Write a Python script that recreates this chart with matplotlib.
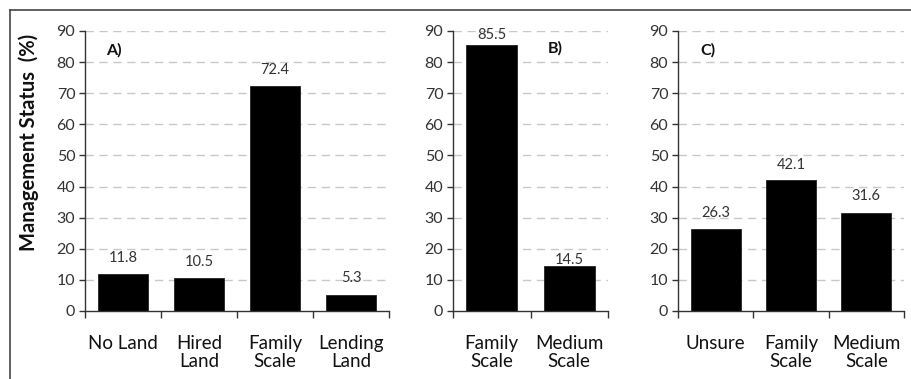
import matplotlib
matplotlib.use("Agg")
import matplotlib.pyplot as plt
from matplotlib.lines import Line2D

plt.rcParams['font.family'] = ['Lato', 'DejaVu Sans']

# panel A: land ownership
land_cats = ['No Land', 'Hired\nLand', 'Family\nScale', 'Lending\nLand']
land_vals = [11.8, 10.5, 72.4, 5.3]

# panel B: farm scale
scale_cats = ['Family\nScale', 'Medium\nScale']
scale_vals = [85.5, 14.5]

# panel C: future plans
plan_cats = ['Unsure', 'Family\nScale', 'Medium\nScale']
plan_vals = [26.3, 42.1, 31.6]

yticks = list(range(0, 100, 10))

fig = plt.figure(figsize=(9.12, 3.79), dpi=100)
W, H = 912, 379

def px_axes(left, right, bottom, top):
    return fig.add_axes([left / W, (H - bottom) / H, (right - left) / W, (bottom - top) / H])

def draw_panel(ax, cats, vals, tag, tag_xy, offsets):
    n = len(cats)
    x = list(range(n))
    ax.set_axisbelow(True)
    for y in yticks[1:]:
        ax.axhline(y, color='#c8c8c8', lw=1.0, ls=(0, (6, 4)), zorder=0)
    bars = ax.bar(x, vals, width=0.66, color='black', edgecolor='#222222', lw=0.6, zorder=2)
    for b, v, off in zip(bars, vals, offsets):
        ax.annotate(f'{v:.1f}', (b.get_x() + b.get_width() / 2, v),
                    xytext=(0, off), textcoords='offset pixels',
                    ha='center', va='center', fontsize=10.5, color='#333333')
    ax.set_xlim(-0.5, n - 0.5)
    ax.set_ylim(0, 90)
    ax.set_yticks(yticks)
    ax.tick_params(axis='y', direction='out', length=4, width=1, pad=3,
                   labelsize=11.5, labelcolor='#333333', color='#333333')
    ax.set_xticks(x)
    ax.set_xticklabels(cats, fontsize=13.5, linespacing=1.12, va='top')
    ax.tick_params(axis='x', which='major', length=0, pad=17, labelcolor='#111111')
    ax.set_xticks([i - 0.5 for i in range(n + 1)], minor=True)
    ax.tick_params(axis='x', which='minor', direction='out', length=5, width=1, color='#333333')
    for s in ('top', 'right'):
        ax.spines[s].set_visible(False)
    for s in ('left', 'bottom'):
        ax.spines[s].set_color('#333333')
        ax.spines[s].set_linewidth(1.0)
    ax.text(tag_xy[0], tag_xy[1], tag, transform=ax.transAxes, fontsize=11.5,
            fontweight='bold', ha='left', va='center', color='#111111')

ax_a = px_axes(85, 389, 311, 31)
ax_b = px_axes(453, 608, 311, 31)
ax_c = px_axes(678, 904, 311, 31)

draw_panel(ax_a, land_cats, land_vals, 'A)', (0.069, 0.932), [16, 16, 16, 17])
draw_panel(ax_b, scale_cats, scale_vals, 'B)', (0.613, 0.939), [10, 6])
draw_panel(ax_c, plan_cats, plan_vals, 'C)', (0.097, 0.932), [16, 15, 17])

fig.text(29 / W, 1 - 142 / H, 'Management Status  (%)', rotation=90,
         ha='center', va='center', fontsize=14.5, fontweight='bold', color='#111111')

# frame around the figure (top and left edges)
fig.add_artist(Line2D([10 / W, 1.0], [1 - 9.5 / H, 1 - 9.5 / H], color='#444444', lw=1.2,
                      transform=fig.transFigure))
fig.add_artist(Line2D([10.5 / W, 10.5 / W], [0.0, 1 - 9.5 / H], color='#444444', lw=1.2,
                      transform=fig.transFigure))

fig.savefig('out.png', dpi=100)
